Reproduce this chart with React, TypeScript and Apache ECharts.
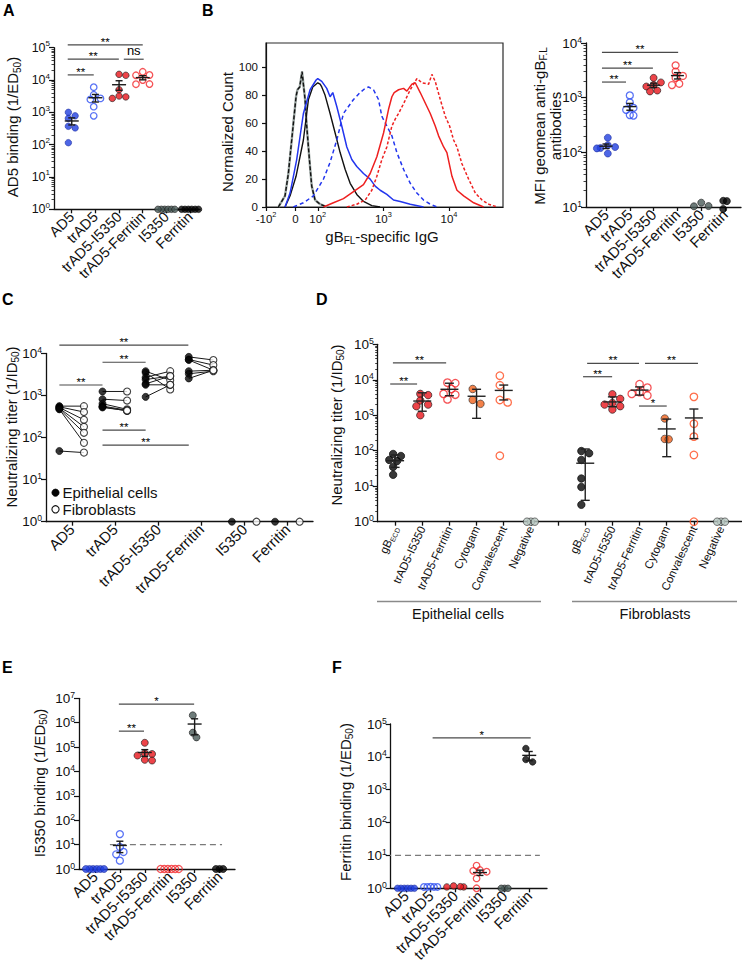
import React, { useEffect, useRef } from "react";
import * as echarts from "echarts";

const FONT = "'Liberation Sans', Arial, Helvetica, sans-serif";
const INK = "#111111";

// ---------------- categories ----------------
const mainCats = ["AD5", "trAD5", "trAD5-I5350", "trAD5-Ferritin", "I5350", "Ferritin"];
const dCats = ["gB_ECD", "trAD5-I5350", "trAD5-Ferritin", "Cytogam", "Convalescent", "Negative"];
const dCellTypes = ["Epithelial cells", "Fibroblasts"];

// ---------------- Panel A : AD5 binding (1/ED50) ----------------
const aRange = [1, 1e5];
const aValues = [
  [1000, 780, 650, 370, 330, 115],
  [6000, 3500, 2700, 2500, 1500, 780],
  [15000, 14000, 5000, 3200, 3000, 2700],
  [18000, 14300, 14000, 10000, 7500, 7400],
  [1, 1, 1, 1, 1, 1],
  [1, 1, 1, 1, 1, 1],
];
const aSig = [[-0.17, 0.93, 14400], [-0.17, 1.99, 44000], [2.2, 3.04, 44000], [-0.17, 3.0, 122000]];
const aSigLabels = ["**", "**", "ns", "**"];

// ---------------- Panel B : histogram ----------------
const histTickPos = [1.211, 1.659, 2, 3, 4];
const histTickLabels = ["{b|-10}{s|2}", "{b|0}", "{b|10}{s|2}", "{b|10}{s|3}", "{b|10}{s|4}"];
const histCountTicks = [0, 20, 40, 60, 80, 100];
const histControl = [[1.40, 0], [1.425, 2], [1.501, 8], [1.552, 24], [1.603, 48], [1.669, 79], [1.69, 84], [1.725, 86], [1.761, 97], [1.781, 88], [1.807, 77], [1.832, 58], [1.873, 34], [1.908, 15], [1.959, 5], [2.036, 2], [2.137, 0]];
const histAD5 = [[1.501, 0], [1.578, 8], [1.669, 22], [1.781, 48], [1.858, 77], [1.924, 86], [2.0, 89], [2.036, 88], [2.061, 86], [2.112, 80], [2.188, 67], [2.265, 53], [2.341, 39], [2.417, 27], [2.494, 17], [2.595, 9], [2.697, 4], [2.824, 1], [2.95, 0]];
const histTrAD5 = [[1.501, 0], [1.578, 10], [1.679, 34], [1.781, 67], [1.883, 84], [1.975, 91], [2.0, 92], [2.061, 90], [2.137, 85], [2.188, 79], [2.229, 82], [2.29, 72], [2.366, 58], [2.443, 43], [2.519, 34], [2.595, 29], [2.697, 24], [2.799, 20], [2.875, 15], [2.952, 12], [3.053, 9], [3.155, 5], [3.257, 4], [3.41, 2], [3.613, 0]];
const histTrAD5b = [[1.628, 0], [1.781, 3], [1.934, 8], [2.087, 20], [2.188, 32], [2.29, 48], [2.392, 67], [2.468, 72], [2.545, 77], [2.646, 82], [2.723, 85], [2.774, 86], [2.85, 84], [2.926, 77], [2.977, 65], [3.053, 58], [3.13, 51], [3.206, 39], [3.308, 27], [3.41, 17], [3.511, 10], [3.613, 5], [3.715, 2], [3.817, 0]];
const histI5350 = [[2.087, 0], [2.239, 3], [2.392, 6], [2.545, 11], [2.697, 16], [2.799, 24], [2.901, 36], [3.003, 53], [3.079, 70], [3.13, 79], [3.165, 82], [3.232, 84], [3.308, 85], [3.359, 83], [3.435, 88], [3.486, 89], [3.562, 82], [3.613, 77], [3.664, 72], [3.715, 67], [3.791, 58], [3.842, 51], [3.919, 43], [3.969, 39], [4.046, 22], [4.122, 12], [4.224, 8], [4.377, 3], [4.529, 0]];
const histFerritin = [[2.443, 0], [2.595, 2], [2.723, 5], [2.824, 12], [2.901, 22], [2.977, 34], [3.053, 43], [3.13, 58], [3.181, 63], [3.232, 67], [3.308, 74], [3.41, 84], [3.511, 92], [3.588, 89], [3.69, 88], [3.74, 95], [3.791, 90], [3.868, 77], [3.944, 65], [4.01, 58], [4.071, 48], [4.122, 43], [4.198, 31], [4.3, 20], [4.402, 10], [4.504, 5], [4.606, 2], [4.733, 0]];

// ---------------- Panel B right : MFI ----------------
const bRange = [10, 1e4];
const bValues = [
  [185, 135, 125, 120, 118, 95],
  [1100, 820, 650, 600, 480, 470],
  [2300, 1900, 1700, 1600, 1350, 1300],
  [3900, 3000, 2500, 2300, 1800, 1700],
  [10.3, 12, 10.4],
  [13, 12.8, 9.2],
];
const bSig = [[-0.17, 0.84, 1930], [-0.17, 1.97, 3470], [-0.17, 3.03, 6750]];
const bSigLabels = ["**", "**", "**"];

// ---------------- Panel C : neutralization, paired ----------------
const cRange = [1, 1e4];
const cEpithelial = [
  [560, 540, 520, 500, 480, 470, 48],
  [1250, 820, 640, 560, 540, 520],
  [3800, 3500, 2700, 2400, 1900, 1800, 930],
  [8300, 7200, 7000, 3800, 3300, 2550],
  [1],
  [1],
];
const cFibroblast = [
  [560, 405, 265, 180, 130, 75, 44],
  [1250, 760, 470, 450, 430, 440],
  [2300, 1400, 3800, 2900, 2900, 1800, 1800],
  [7000, 5300, 4000, 4000, 3800, 4000],
  [1],
  [1],
];
const cSig = [[-0.29, 2.7, 15800], [0.71, 1.71, 6200], [-0.29, 0.71, 1780], [0.71, 1.71, 150], [0.71, 2.71, 66]];
const cSigLabels = ["**", "**", "**", "**", "**"];

// ---------------- Panel D : neutralization by cell type ----------------
const dRange = [1, 1e5];
const dEpithelial = [
  [81, 71, 55, 51, 35, 21],
  [4000, 3700, 2600, 2000, 1800, 1000],
  [8300, 8000, 5500, 4000, 3800, 2800],
  [5500, 2700, 2100],
  [13000, 7000, 2700, 2300, 72],
  [1, 1, 1],
];
const dFibroblast = [
  [98, 85, 55, 16.5, 9.5, 3],
  [3900, 2900, 2200, 2000, 1800, 1450],
  [7500, 6000, 4500, 4000, 3600],
  [810, 215, 210],
  [3300, 575, 250, 76, 1],
  [1, 1, 1],
];
const dEpithelialErr = [[34, 76], [1300, 4300], [3550, 8000], [820, 5400], [2700, 7100], null];
const dFibroblastErr = [[4, 112], [1740, 3300], [3700, 6300], [68, 780], [220, 1500], null];
const dSig = [[-0.18, 0.81, 7600], [-0.08, 1.88, 30000], [6.92, 7.99, 12200], [7.07, 8.98, 29000], [9.2, 11.15, 29000], [8.98, 10.0, 1820]];
const dSigLabels = ["**", "**", "**", "**", "**", "*"];

// ---------------- Panel E : I5350 binding ----------------
const eRange = [1, 1e7];
const eValues = [
  [1, 1, 1, 1, 1, 1],
  [27, 8, 5, 4, 2.2],
  [150000, 55000, 52000, 45000, 30000, 28000],
  [1, 1, 1, 1, 1, 1],
  [2000000, 390000, 250000],
  [1, 1, 1],
];
const eSig = [[0.96, 1.97, 450000], [0.96, 3.98, 5.8e6]];
const eSigLabels = ["**", "*"];
const eCutoff = 10;
const eCutoffSpan = [0.6, 5.1];

// ---------------- Panel F : Ferritin binding ----------------
const fRange = [1, 1e5];
const fValues = [
  [1, 1, 1, 1, 1, 1],
  [1.1, 1.1, 1.12, 1.1, 1.1],
  [1.1, 1.1, 1.12, 1.18],
  [4.9, 3.6, 3.4, 3.2, 2.0, 1.0],
  [1, 1, 1],
  [18000, 8300, 7000],
];
const fSig = [[1.08, 5.06, 38000]];
const fSigLabels = ["*"];
const fCutoff = 10;
const fCutoffSpan = [-0.85, 5.43];

// ---------------- styles ----------------
const CLEAR = "rgba(255,255,255,0)";
const mainStyles = [
  { color: "#2140e0", borderColor: "#13249a", borderWidth: 0.7 },
  { color: CLEAR, borderColor: "#3050f2", borderWidth: 1.3 },
  { color: "#e8151b", borderColor: "#1a1a1a", borderWidth: 0.8 },
  { color: CLEAR, borderColor: "#f2282c", borderWidth: 1.3 },
  { color: "#4a5b59", borderColor: "#1a1a1a", borderWidth: 0.8 },
  { color: "#060606", borderColor: "#000000", borderWidth: 0.8 },
];
const dStyles = [
  { color: "#060606", borderColor: "#000000", borderWidth: 0.8 },
  { color: "#e8151b", borderColor: "#1a1a1a", borderWidth: 0.8 },
  { color: CLEAR, borderColor: "#f2282c", borderWidth: 1.3 },
  { color: "#f0621c", borderColor: "#2a2a2a", borderWidth: 0.8 },
  { color: CLEAR, borderColor: "#ff4b1e", borderWidth: 1.3 },
  { color: "#b9c9c3", borderColor: "#2a2a2a", borderWidth: 0.8 },
];
const cStyles = [
  { color: "#050505", borderColor: "#000000", borderWidth: 0.8 },
  { color: "#ffffff", borderColor: "#111111", borderWidth: 1.1 },
];

// ---------------- layout (pixels) ----------------
const L = {
  A: { left: 54, top: 47.7, width: 146, height: 161.6, xMin: -0.75, xMax: 5.42 },
  H: { left: 266, top: 43, width: 237, height: 164, xMin: 1.211, xMax: 4.824, yMax: 117.5 },
  B: { left: 586, top: 43, width: 155, height: 164, xMin: -0.84, xMax: 5.67 },
  C: { left: 46, top: 353.5, width: 267, height: 168.2, xMin: -0.6, xMax: 5.59 },
  D: { left: 377.7, top: 344.3, width: 364, height: 177.4, xMin: -0.64, xMax: 12.76 },
  E: { left: 79, top: 698.3, width: 156, height: 170.7, xMin: -0.64, xMax: 5.62 },
  F: { left: 390.7, top: 724, width: 156.3, height: 164.3, xMin: -0.62, xMax: 5.72 },
};

// ---------------- helpers ----------------
function meanOf(v) {
  return v.reduce((s, x) => s + x, 0) / v.length;
}
function semOf(v) {
  const m = meanOf(v);
  const sd = Math.sqrt(v.reduce((s, x) => s + (x - m) * (x - m), 0) / (v.length - 1));
  return sd / Math.sqrt(v.length);
}
// beeswarm offsets (category units) so that overlapping dots are spread horizontally
function swarm(vals, catPx, decPx, d) {
  const order = vals.map((_, i) => i).sort((a, b) => vals[b] - vals[a]);
  const placed = [];
  const off = vals.map(() => 0);
  const step = d * 0.52;
  order.forEach((i) => {
    const y = Math.log10(vals[i]) * decPx;
    for (let k = 0; k < 80; k++) {
      const c = k === 0 ? 0 : (k % 2 ? 1 : -1) * Math.ceil(k / 2) * step;
      const ok = placed.every((p) => {
        const dy = Math.abs(p[1] - y);
        const dx = Math.abs(p[0] - c);
        return dy < 0.5 ? dx >= step * 0.98 : Math.hypot(dx, dy) >= d * 0.85;
      });
      if (ok) {
        placed.push([c, y]);
        off[i] = c;
        return;
      }
    }
  });
  const mx = Math.max(...off);
  const mn = Math.min(...off);
  const shift = (mx + mn) / 2;
  return off.map((o) => (o - shift) / catPx);
}

function pxPerCat(g) {
  return g.width / (g.xMax - g.xMin);
}
function pxPerDec(g, range) {
  return g.height / (Math.log10(range[1]) - Math.log10(range[0]));
}

const supRich = (size) => ({
  b: { fontSize: size, fontFamily: FONT, color: INK, lineHeight: 16 },
  s: { fontSize: size * 0.64, fontFamily: FONT, color: INK, lineHeight: 8, verticalAlign: "top" },
});

function catXAxis(gridIndex, g, labels, labelIdx, tickIdx, rotate, fontSize, rich?) {
  return {
    type: "value",
    gridIndex,
    min: g.xMin,
    max: g.xMax,
    axisLine: { show: true, onZero: false, lineStyle: { color: INK, width: 1.3 } },
    axisTick: { show: true, length: 4, customValues: tickIdx, lineStyle: { color: INK, width: 1.3 } },
    axisLabel: {
      show: true,
      customValues: labelIdx,
      rotate,
      margin: 5,
      fontSize,
      fontFamily: FONT,
      color: INK,
      formatter: (v) => labels(Math.round(v)),
      rich,
    },
    splitLine: { show: false },
  };
}

function logYAxis(gridIndex, range, fontSize) {
  return {
    type: "log",
    logBase: 10,
    gridIndex,
    position: "left",
    min: range[0],
    max: range[1],
    splitNumber: Math.round(Math.log10(range[1] / range[0])),
    axisLine: { show: true, onZero: false, lineStyle: { color: INK, width: 1.3 } },
    axisTick: { show: true, length: 5, lineStyle: { color: INK, width: 1.2 } },
    minorTick: { show: false },
    axisLabel: {
      show: true,
      margin: 4,
      formatter: (v) => `{b|10}{s|${Math.round(Math.log10(v))}}`,
      rich: supRich(fontSize),
    },
    splitLine: { show: false },
  };
}

// decorative minor ticks on a linear axis laid out in log10 units
function minorYAxis(gridIndex, range) {
  const lo = Math.round(Math.log10(range[0]));
  const hi = Math.round(Math.log10(range[1]));
  const vals = [];
  for (let e = lo; e < hi; e++) for (let k = 2; k <= 9; k++) vals.push(e + Math.log10(k));
  return {
    type: "value",
    gridIndex,
    position: "left",
    min: lo,
    max: hi,
    axisLine: { show: false, onZero: false },
    axisTick: { show: true, length: 2.5, customValues: vals, lineStyle: { color: INK, width: 0.8 } },
    axisLabel: { show: false },
    splitLine: { show: false },
  };
}

function scatter(name, xi, yi, pts, style, size, z = 3) {
  return {
    type: "scatter",
    name,
    xAxisIndex: xi,
    yAxisIndex: yi,
    data: pts,
    symbol: "circle",
    symbolSize: size,
    itemStyle: style,
    clip: false,
    z,
    silent: true,
  };
}

function errSeries(xi, yi, rows, halfMean, halfCap, color = "#1a1a1a") {
  return {
    type: "custom",
    xAxisIndex: xi,
    yAxisIndex: yi,
    data: rows,
    dimensions: ["x", "m", "lo", "hi"],
    encode: { x: 0, y: 1 },
    clip: false,
    silent: true,
    z: 6,
    itemStyle: { color },
    renderItem: (params, api) => {
      const x = api.value(0);
      const pm = api.coord([x, api.value(1)]);
      const pl = api.coord([x, api.value(2)]);
      const ph = api.coord([x, api.value(3)]);
      const st = { stroke: color, lineWidth: 1.4, fill: null };
      return {
        type: "group",
        children: [
          { type: "line", shape: { x1: pm[0] - halfMean, y1: pm[1], x2: pm[0] + halfMean, y2: pm[1] }, style: st },
          { type: "line", shape: { x1: pm[0], y1: pl[1], x2: pm[0], y2: ph[1] }, style: st },
          { type: "line", shape: { x1: pm[0] - halfCap, y1: pl[1], x2: pm[0] + halfCap, y2: pl[1] }, style: st },
          { type: "line", shape: { x1: pm[0] - halfCap, y1: ph[1], x2: pm[0] + halfCap, y2: ph[1] }, style: st },
        ],
      };
    },
  };
}

function sigSeries(xi, yi, rows, labels) {
  return {
    type: "custom",
    xAxisIndex: xi,
    yAxisIndex: yi,
    data: rows,
    dimensions: ["x1", "x2", "y"],
    encode: { x: [0, 1], y: 2 },
    clip: false,
    silent: true,
    z: 7,
    itemStyle: { color: "#000000" },
    renderItem: (params, api) => {
      const p1 = api.coord([api.value(0), api.value(2)]);
      const p2 = api.coord([api.value(1), api.value(2)]);
      const lab = labels[params.dataIndex];
      const isNs = lab === "ns";
      return {
        type: "group",
        children: [
          { type: "line", shape: { x1: p1[0], y1: p1[1], x2: p2[0], y2: p1[1] }, style: { stroke: "#4a4a4a", lineWidth: 1.2 } },
          {
            type: "text",
            x: (p1[0] + p2[0]) / 2,
            y: p1[1] + (isNs ? -2 : 3),
            style: {
              text: lab,
              fill: "#000000",
              fontSize: isNs ? 13 : 11.5,
              fontFamily: FONT,
              align: "center",
              verticalAlign: "bottom",
            },
          },
        ],
      };
    },
  };
}

function cutoffSeries(xi, yi, span, y) {
  return {
    type: "line",
    xAxisIndex: xi,
    yAxisIndex: yi,
    data: [[span[0], y], [span[1], y]],
    showSymbol: false,
    symbol: "none",
    clip: false,
    silent: true,
    z: 1,
    lineStyle: { color: "#7a7a7a", width: 1.3, type: [6, 4] },
  };
}

// standard 6-category dot plot with mean ± SEM
function dotPanel(xi, yi, g, range, values, size, halfMean, halfCap, prefix) {
  const catPx = pxPerCat(g);
  const decPx = pxPerDec(g, range);
  const series = [];
  const rows = [];
  values.forEach((vals, c) => {
    const off = swarm(vals, catPx, decPx, size);
    series.push(scatter(`${prefix}-${mainCats[c]}`, xi, yi, vals.map((v, i) => [c + off[i], v]), mainStyles[c], size));
    const mx = Math.max(...vals);
    const mn = Math.min(...vals);
    if (mx / mn >= 1.5) {
      const m = meanOf(vals);
      const s = semOf(vals);
      rows.push([c, m, Math.max(m - s, range[0] * 0.5), m + s]);
    }
  });
  series.push(errSeries(xi, yi, rows, halfMean, halfCap));
  return series;
}

function buildOption() {
  const grids = Object.values(L).map((g) => ({
    left: g.left,
    top: g.top,
    width: g.width,
    height: g.height,
    containLabel: false,
    outerBoundsMode: "none",
    show: false,
  }));
  grids[1] = { ...grids[1], show: true, borderColor: "#2a2a2a", borderWidth: 1.2, backgroundColor: "rgba(0,0,0,0)" };

  const mainLabel = (i) => mainCats[i] ?? "";
  const idx6 = [0, 1, 2, 3, 4, 5];
  const dLabel = (i) => {
    const name = i < 6 ? dCats[i] : dCats[i - 7];
    if (!name) return "";
    return name === "gB_ECD" ? "{n|gB}{sub|ECD}" : `{n|${name}}`;
  };
  const dRich = {
    n: { fontSize: 11.5, fontFamily: FONT, color: INK, lineHeight: 14 },
    sub: { fontSize: 7, fontFamily: FONT, color: INK, lineHeight: 7, verticalAlign: "bottom" },
  };

  const xAxis = [
    catXAxis(0, L.A, mainLabel, idx6, idx6, 45, 14.5),
    {
      type: "value",
      gridIndex: 1,
      min: L.H.xMin,
      max: L.H.xMax,
      axisLine: { show: true, onZero: false, lineStyle: { color: INK, width: 1.2 } },
      axisTick: { show: true, length: 4, customValues: histTickPos, lineStyle: { color: INK, width: 1.2 } },
      axisLabel: {
        show: true,
        customValues: histTickPos,
        margin: 4,
        formatter: (v) => {
          let best = 0;
          histTickPos.forEach((p, i) => {
            if (Math.abs(p - v) < Math.abs(histTickPos[best] - v)) best = i;
          });
          return histTickLabels[best];
        },
        rich: supRich(11.5),
      },
      splitLine: { show: false },
    },
    catXAxis(2, L.B, mainLabel, idx6, idx6, 45, 15),
    catXAxis(3, L.C, mainLabel, idx6, idx6, 45, 15),
    catXAxis(4, L.D, dLabel, [0, 1, 2, 3, 4, 5, 7, 8, 9, 10, 11, 12], [0, 1, 2, 3, 4, 5, 6, 7, 8, 9, 10, 11, 12], 65, 11.5, dRich),
    catXAxis(5, L.E, mainLabel, idx6, idx6, 45, 15),
    catXAxis(6, L.F, mainLabel, idx6, idx6, 45, 15),
  ];

  const yAxis = [
    logYAxis(0, aRange, 12.5),
    {
      type: "value",
      gridIndex: 1,
      position: "left",
      min: 0,
      max: L.H.yMax,
      axisLine: { show: true, onZero: false, lineStyle: { color: INK, width: 1.2 } },
      axisTick: { show: true, length: 4, customValues: histCountTicks, lineStyle: { color: INK, width: 1.2 } },
      axisLabel: { show: true, customValues: histCountTicks, margin: 8, fontSize: 11.5, fontFamily: FONT, color: INK },
      splitLine: { show: false },
    },
    logYAxis(2, bRange, 13.5),
    logYAxis(3, cRange, 13.5),
    logYAxis(4, dRange, 13.5),
    logYAxis(5, eRange, 13.5),
    logYAxis(6, fRange, 13.5),
    minorYAxis(0, aRange),
    minorYAxis(2, bRange),
    minorYAxis(4, dRange),
  ];

  const series = [];

  // A
  series.push(...dotPanel(0, 0, L.A, aRange, aValues, 6.5, 7, 3.5, "A"));
  series.push(sigSeries(0, 0, aSig, aSigLabels));

  // B histogram
  const hLine = (data, color, width, type, z = 3) => ({
    type: "line",
    xAxisIndex: 1,
    yAxisIndex: 1,
    data,
    showSymbol: false,
    symbol: "none",
    silent: true,
    z,
    itemStyle: { color },
    lineStyle: { color, width, type },
  });
  series.push(hLine(histControl, "#9aa5a2", 2.4, "solid", 2));
  series.push(hLine(histControl, "#111111", 1.4, [4, 2]));
  series.push(hLine(histAD5, "#111111", 1.4, "solid"));
  series.push(hLine(histTrAD5, "#2336ee", 1.5, "solid"));
  series.push(hLine(histTrAD5b, "#2336ee", 1.5, [4, 3]));
  series.push(hLine(histI5350, "#ee2020", 1.5, "solid"));
  series.push(hLine(histFerritin, "#ee2020", 1.5, [3, 2]));

  // B right
  series.push(...dotPanel(2, 2, L.B, bRange, bValues, 7, 6.5, 3.5, "B"));
  series.push(sigSeries(2, 2, bSig, bSigLabels));

  // C paired
  const pairRows = [];
  const cEpiPts = [];
  const cFibPts = [];
  cEpithelial.forEach((vals, c) => {
    vals.forEach((v, i) => {
      cEpiPts.push([c - 0.29, v]);
      cFibPts.push([c + 0.28, cFibroblast[c][i]]);
      pairRows.push([c - 0.29, v, c + 0.28, cFibroblast[c][i]]);
    });
  });
  series.push({
    type: "custom",
    xAxisIndex: 3,
    yAxisIndex: 3,
    data: pairRows,
    dimensions: ["x1", "y1", "x2", "y2"],
    encode: { x: [0, 2], y: [1, 3] },
    clip: false,
    silent: true,
    z: 2,
    itemStyle: { color: "#1a1a1a" },
    renderItem: (params, api) => {
      const p1 = api.coord([api.value(0), api.value(1)]);
      const p2 = api.coord([api.value(2), api.value(3)]);
      return { type: "line", shape: { x1: p1[0], y1: p1[1], x2: p2[0], y2: p2[1] }, style: { stroke: "#1a1a1a", lineWidth: 1 } };
    },
  });
  series.push(scatter(dCellTypes[0], 3, 3, cEpiPts, cStyles[0], 7, 4));
  series.push(scatter(dCellTypes[1], 3, 3, cFibPts, cStyles[1], 7, 4));
  series.push(sigSeries(3, 3, cSig, cSigLabels));

  // D
  {
    const catPx = pxPerCat(L.D);
    const decPx = pxPerDec(L.D, dRange);
    const rows = [];
    [dEpithelial, dFibroblast].forEach((groupVals, gi) => {
      const errs = gi === 0 ? dEpithelialErr : dFibroblastErr;
      groupVals.forEach((vals, c) => {
        const base = gi * 7 + c;
        const off = swarm(vals, catPx, decPx, 7.5);
        series.push(scatter(`D-${dCellTypes[gi]}-${dCats[c]}`, 4, 4, vals.map((v, i) => [base + off[i], v]), dStyles[c], 7.5));
        const e = errs[c];
        if (e) rows.push([base, meanOf(vals), e[0], e[1]]);
      });
    });
    series.push(errSeries(4, 4, rows, 9, 4.5, "#222222"));
    series.push(sigSeries(4, 4, dSig, dSigLabels));
  }

  // E
  series.push(cutoffSeries(5, 5, eCutoffSpan, eCutoff));
  series.push(...dotPanel(5, 5, L.E, eRange, eValues, 7, 7, 3.5, "E"));
  series.push(sigSeries(5, 5, eSig, eSigLabels));

  // F
  series.push(cutoffSeries(6, 6, fCutoffSpan, fCutoff));
  series.push(...dotPanel(6, 6, L.F, fRange, fValues, 6.5, 7, 3.5, "F"));
  series.push(sigSeries(6, 6, fSig, fSigLabels));

  // titles / letters
  const tRich = {
    a: { fontSize: 15, fontFamily: FONT, fill: INK, lineHeight: 19 },
    s: { fontSize: 10, fontFamily: FONT, fill: INK, lineHeight: 10, verticalAlign: "bottom" },
  };
  const vTitle = (x, y, text) => ({
    type: "text",
    x,
    y,
    rotation: Math.PI / 2,
    silent: true,
    style: { text, rich: tRich, align: "center", verticalAlign: "middle" },
  });
  const letter = (x, y, t) => ({
    type: "text",
    x,
    y,
    silent: true,
    style: { text: t, font: `bold 16px ${FONT}`, fill: "#000", align: "left", verticalAlign: "top" },
  });
  const plain = (x, y, t, size = 13, align = "center") => ({
    type: "text",
    x,
    y,
    silent: true,
    style: { text: t, font: `${size}px ${FONT}`, fill: INK, align, verticalAlign: "middle" },
  });
  // legend of panel C (symbol + label)
  const legendRows = dCellTypes.map((name, i) => [
    {
      type: "circle",
      silent: true,
      shape: { cx: 55.5, cy: 492.7 + i * 16.6, r: 3.6 },
      style: { fill: cStyles[i].color, stroke: cStyles[i].borderColor, lineWidth: cStyles[i].borderWidth },
    },
    plain(62.5, 492.7 + i * 16.6, name, 15, "left"),
  ]).flat();

  const graphic = [
    letter(3, 2, "A"),
    letter(202, 2, "B"),
    letter(2, 291, "C"),
    letter(316, 291, "D"),
    letter(2, 659, "E"),
    letter(332, 659, "F"),
    vTitle(12.5, 127, "{a|AD5 binding (1/ED}{s|50}{a|)}"),
    vTitle(227.5, 132, "{a|Normalized Count}"),
    {
      type: "text",
      x: 382,
      y: 236,
      silent: true,
      style: { text: "{a|gB}{s|FL}{a|-specific IgG}", rich: tRich, align: "center", verticalAlign: "middle" },
    },
    vTitle(539, 126, "{a|MFI geomean anti-gB}{s|F.L}"),
    vTitle(555, 126, "{a|antibodies}"),
    vTitle(11, 427, "{a|Neutralizing titer (1/ID}{s|50}{a|)}"),
    vTitle(336, 425, "{a|Neutralizing titer (1/ID}{s|50}{a|)}"),
    vTitle(39, 783, "{a|I5350 binding (1/ED}{s|50}{a|)}"),
    vTitle(345, 802, "{a|Ferritin binding (1/ED}{s|50}{a|)}"),
    { type: "line", silent: true, shape: { x1: 377, y1: 601.5, x2: 541, y2: 601.5 }, style: { stroke: "#8a8a8a", lineWidth: 1.6 } },
    { type: "line", silent: true, shape: { x1: 572, y1: 601.5, x2: 737, y2: 601.5 }, style: { stroke: "#8a8a8a", lineWidth: 1.6 } },
    plain(458, 614, dCellTypes[0], 14.5),
    plain(655, 614, dCellTypes[1], 14.5),
    ...legendRows,
  ];

  return {
    animation: false,
    backgroundColor: "#ffffff",
    textStyle: { fontFamily: FONT },
    grid: grids,
    xAxis,
    yAxis,
    graphic: { elements: graphic },
    series,
  };
}

export default function App() {
  const ref = useRef(null);
  useEffect(() => {
    const chart = echarts.init(ref.current, null, { renderer: "svg", width: 742, height: 965 });
    chart.setOption(buildOption());
    return () => chart.dispose();
  }, []);
  return (
    <div
      ref={ref}
      style={{ position: "absolute", left: 0, top: 0, width: 742, height: 965, background: "#ffffff" }}
    />
  );
}
